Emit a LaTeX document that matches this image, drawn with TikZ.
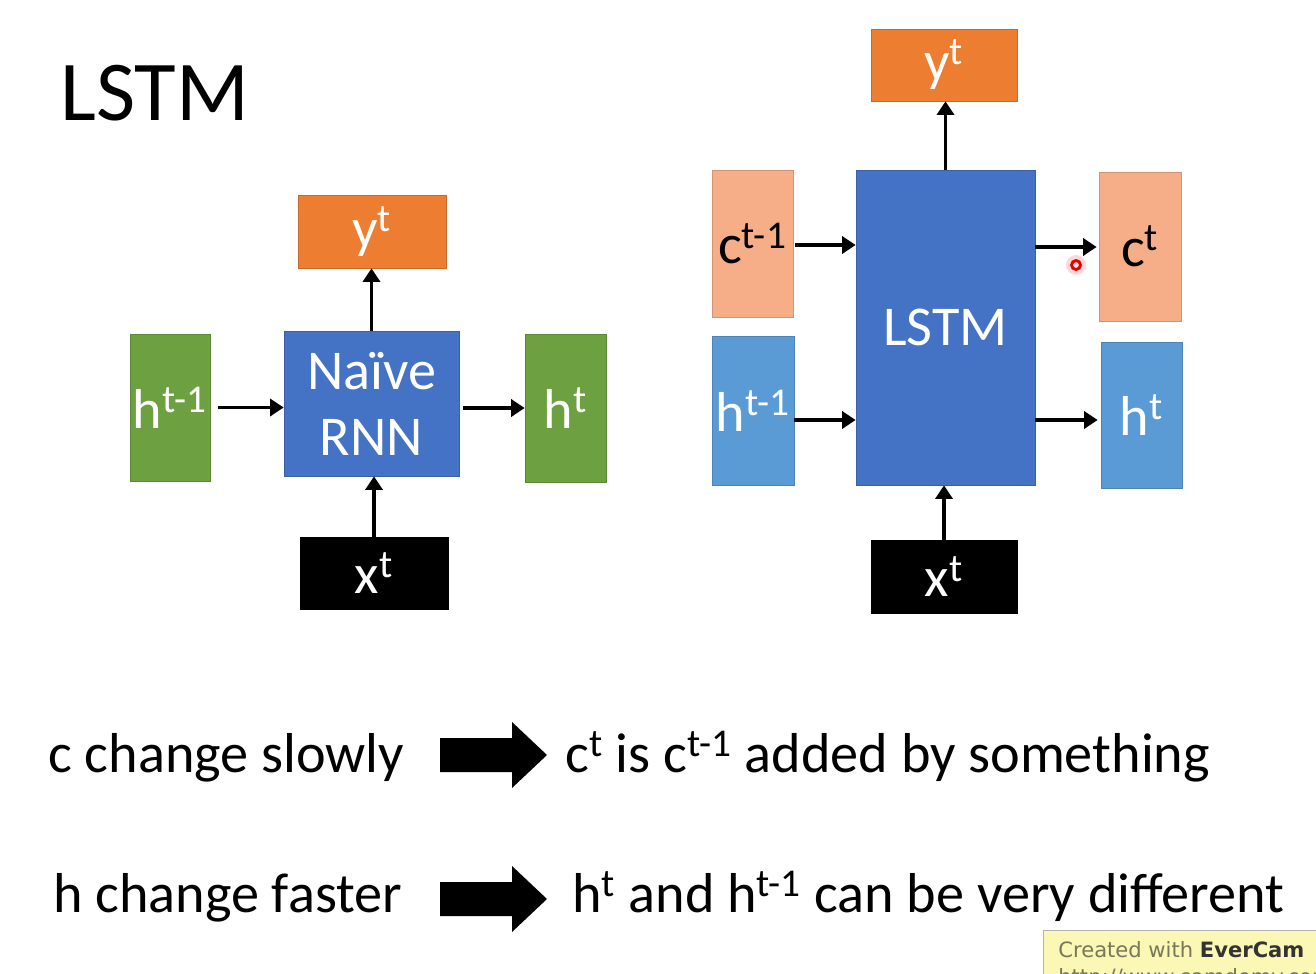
\documentclass[tikz,border=0pt]{standalone}
\usepackage{fontspec}
\setmainfont{Carlito}
\newfontfamily\wmfont{DejaVu Sans}
\usetikzlibrary{arrows.meta}
\definecolor{nblue}{HTML}{4472C4}
\definecolor{ngreen}{HTML}{6CA040}
\definecolor{norange}{HTML}{ED7D31}
\definecolor{nsalmon}{HTML}{F6AE88}
\definecolor{nlblue}{HTML}{5B9BD5}
\definecolor{wmyellow}{HTML}{FBF7B4}
\definecolor{wmgray}{HTML}{77775A}
\begin{document}
\begin{tikzpicture}[x=0.02cm,y=-0.02cm,
  box/.style={draw=#1!85!black, fill=#1, line width=0.4pt, inner sep=0pt, text=white,
              font=\fontsize{32}{37.5}\selectfont},
  sz/.style 2 args={minimum width=#1*0.02cm, minimum height=#2*0.02cm},
  arr/.style={-{Triangle[length=0.27cm,width=0.34cm]}, line width=2.2pt},
  body/.style={anchor=base west, inner sep=0pt, font=\fontsize{32}{38}\selectfont},
  blockarrow/.style={fill=black}
]
\useasboundingbox (0,0) rectangle (1316,974);
\fill[white] (0,0) rectangle (1316,974);

% title
\node[anchor=base west, inner sep=0pt, font=\fontsize{48.5}{58}\selectfont] (title) at (60,120) {LSTM};

% ---- left: naive RNN
\node[box=ngreen, sz={80}{147}] (h1) at (170,407.5) {h\textsuperscript{t-1}};
\node[box=nblue, sz={175}{145}, align=center] (rnn) at (371.5,403.5) {Naïve\\RNN};
\node[box=ngreen, sz={81}{148}] (h2) at (565.5,408) {h\textsuperscript{t}};
\node[box=norange, sz={148}{73}] (y1) at (372,231.5) {y\textsuperscript{t}};
\node[box=black, sz={148}{72}] (x1) at (374,573) {x\textsuperscript{t}};

\draw[arr, shorten <=0.16cm] (h1.east) -- (rnn.west |- h1.east);
\draw[arr, shorten <=0.08cm] (rnn.east |- h2.west) -- (h2.west);
\draw[arr] (rnn.north) -- (rnn.north |- y1.south);
\draw[arr] (x1.north) -- (rnn.south -| x1.north);

% ---- right: LSTM
\node[box=norange, sz={146}{72}] (y2) at (944,65) {y\textsuperscript{t}};
\node[box=nblue, sz={179}{315}] (lstm) at (945.5,327.5) {LSTM};
\node[box=nsalmon, sz={81}{147}, text=black] (c1) at (752.5,243.5) {c\textsuperscript{t-1}};
\node[box=nlblue, sz={82}{149}] (h3) at (753,410.5) {h\textsuperscript{t-1}};
\node[box=nsalmon, sz={82}{149}, text=black] (c2) at (1140,246.5) {c\textsuperscript{t}};
\node[box=nlblue, sz={81}{146}] (h4) at (1141.5,415) {h\textsuperscript{t}};
\node[box=black, sz={146}{73}] (x2) at (944,576.5) {x\textsuperscript{t}};

\coordinate (rowc) at (0,245);
\coordinate (rowcc) at (0,247);
\coordinate (rowh) at (0,420);
\draw[arr, shorten <=0.04cm] (c1.east |- rowc) -- (lstm.west |- rowc);
\draw[arr] (h3.east |- rowh) -- (lstm.west |- rowh);
\draw[arr, shorten >=0.04cm] (lstm.east |- rowcc) -- (c2.west |- rowcc);
\draw[arr, shorten >=0.06cm] (lstm.east |- rowh) -- (h4.west |- rowh);
\draw[arr] (lstm.north) -- (lstm.north |- y2.south);
\draw[arr] (x2.north) -- (lstm.south -| x2.north);

% cursor mark
\fill[red!30, opacity=0.5] (1076,265) circle (0.2cm);
\draw[red!90!black, line width=1.6pt] (1076,265) circle (0.09cm);

% ---- bottom statements
\node[body] (s1) at (48,772) {c change slowly};
\node[body] (r1) at (565,772) {c\textsuperscript{t} is c\textsuperscript{t-1} added by something};
\fill[blockarrow] (440,738) -- (512,738) -- (512,722) -- (547,755) -- (512,788) -- (512,772) -- (440,772) -- cycle;

\node[body] (s2) at (53,912) {h change faster};
\node[body] (r2) at (572,912) {h\textsuperscript{t} and h\textsuperscript{t-1} can be very different};
\fill[blockarrow] (440,882) -- (512,882) -- (512,866) -- (547,899) -- (512,932) -- (512,916) -- (440,916) -- cycle;

% ---- watermark (cut by the frame)
\begin{scope}
\clip (0,0) rectangle (1316,974);
\node[draw=gray!60, fill=wmyellow, line width=0.6pt, anchor=north west, inner sep=0pt, sz={300}{80}] (wm) at (1043,930) {};
\node[anchor=base west, inner sep=0pt, text=wmgray, font=\wmfont\fontsize{12}{14}\selectfont] (wmt) at (1058,957) {Created with \textbf{\textcolor{black!80}{EverCam}}};
\node[anchor=base west, inner sep=0pt, text=wmgray, font=\wmfont\fontsize{12}{14}\selectfont] (wmu) at (1058,984) {http://www.camdemy.com};
\end{scope}
\end{tikzpicture}
\end{document}
